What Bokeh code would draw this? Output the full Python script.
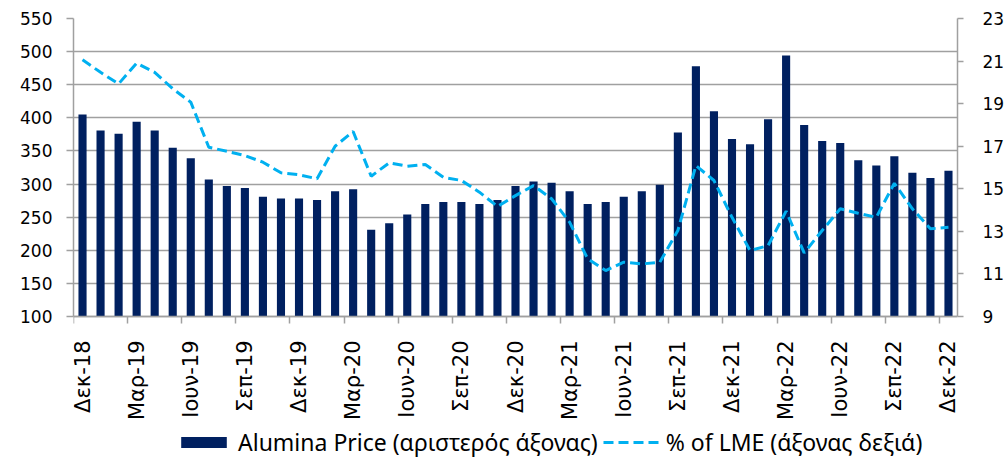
import math
from bokeh.plotting import figure
from bokeh.models import (Range1d, LinearAxis, FixedTicker, Legend, LegendItem,
                          Label, CustomJSTickFormatter)
from bokeh.embed import file_html
from bokeh.resources import INLINE

month_abbr = ["Ιαν", "Φεβ", "Μαρ", "Απρ", "Μαϊ", "Ιουν", "Ιουλ", "Αυγ", "Σεπ", "Οκτ", "Νοε", "Δεκ"]
months = ["Δεκ-18"] + [f"{m}-{y}" for y in ["19", "20", "21", "22"] for m in month_abbr]

price = [405, 381, 376, 394, 381, 355, 339, 307, 297, 294, 281, 278, 278, 276, 289,
         292, 231, 241, 254, 270, 273, 273, 270, 276, 297, 304, 302, 289, 270, 273, 281, 289, 299,
         378, 478, 410, 368, 360, 398, 494, 389, 365, 362, 336, 328, 342, 317, 309, 320]

pct_lme = [21.06, 20.47, 19.93, 20.9, 20.47, 19.7, 19.07, 16.95, 16.76, 16.56, 16.25, 15.75, 15.66, 15.47, 17.0,
           17.69, 15.59, 16.22, 16.06, 16.14, 15.54, 15.39, 14.84, 14.17, 14.68, 15.15, 14.53, 13.43, 11.71,
           11.16, 11.55, 11.47, 11.55,
           13.04, 16.09, 15.39, 13.66, 12.1, 12.33, 13.95, 11.99, 13.04, 14.06, 13.85, 13.66, 15.26, 14.06,
           13.12, 13.19]

left_ticks = [100, 150, 200, 250, 300, 350, 400, 450, 500, 550]
right_ticks = [9, 11, 13, 15, 17, 19, 21, 23]
left_lo, left_hi = 100, 550
right_lo, right_hi = 9, 23

x = [i + 0.5 for i in range(len(months))]
label_pos = [i + 0.5 for i in range(0, len(months), 3)]
boundary_pos = [i for i in range(0, len(months), 3)]

GRID = "#a0a0a0"
TICK_FONT = "DejaVu Sans"

# value axes span 298 px; the frame continues 142 px lower to hold the month labels and legend
AXIS_PX, EXTRA_PX = 298, 142
left_start = left_lo - EXTRA_PX * (left_hi - left_lo) / AXIS_PX
right_start = right_lo - EXTRA_PX * (right_hi - right_lo) / AXIS_PX

p = figure(frame_width=884, frame_height=AXIS_PX + EXTRA_PX,
           x_range=Range1d(0, len(months)), y_range=Range1d(left_start, left_hi),
           output_backend="svg", toolbar_location=None,
           min_border_left=73, min_border_right=47, min_border_top=18, min_border_bottom=0)
p.outline_line_color = None
p.background_fill_color = "white"
p.border_fill_color = "white"
p.xgrid.visible = False
p.ygrid.ticker = FixedTicker(ticks=left_ticks)
p.ygrid.grid_line_color = GRID
p.ygrid.grid_line_width = 1.5

ya = p.yaxis[0]
ya.ticker = FixedTicker(ticks=left_ticks)
ya.bounds = (left_lo, left_hi)
ya.axis_line_color = GRID
ya.axis_line_width = 1.5
ya.major_tick_line_color = GRID
ya.major_tick_line_width = 1.5
ya.major_tick_out = 7
ya.major_tick_in = 0
ya.minor_tick_line_color = None
ya.major_label_text_font = TICK_FONT
ya.major_label_text_font_size = "17px"
ya.major_label_text_color = "#000000"
ya.major_label_standoff = 14

xa = p.xaxis[0]
xa.fixed_location = left_lo
xa.ticker = FixedTicker(ticks=label_pos, minor_ticks=boundary_pos)
xa.formatter = CustomJSTickFormatter(args=dict(labels=months),
                                     code="return labels[Math.round(tick - 0.5)];")
xa.axis_line_color = GRID
xa.axis_line_width = 1.5
xa.major_tick_line_color = None
xa.major_tick_out = 0
xa.major_tick_in = 0
xa.minor_tick_line_color = GRID
xa.minor_tick_line_width = 1.5
xa.minor_tick_out = 7
xa.minor_tick_in = 0
xa.major_label_orientation = math.pi / 2
xa.major_label_text_font = TICK_FONT
xa.major_label_text_font_size = "21px"
xa.major_label_text_color = "#000000"
xa.major_label_standoff = 17

p.extra_y_ranges = {"r": Range1d(right_start, right_hi)}
ra = LinearAxis(y_range_name="r", ticker=FixedTicker(ticks=right_ticks), bounds=(right_lo, right_hi))
ra.axis_line_color = GRID
ra.axis_line_width = 1.5
ra.major_tick_line_color = GRID
ra.major_tick_line_width = 1.5
ra.major_tick_out = 6
ra.major_tick_in = 0
ra.minor_tick_line_color = None
ra.major_label_text_font = TICK_FONT
ra.major_label_text_font_size = "17px"
ra.major_label_text_color = "#000000"
ra.major_label_standoff = 19
p.add_layout(ra, "right")

bars = p.vbar(x=x, top=price, bottom=left_lo, width=0.45, fill_color="#002060", line_color=None)
line = p.line(x, pct_lme, y_range_name="r", line_color="#00b0f0", line_width=3, line_dash="10 5")

legend = Legend(items=[LegendItem(label="Alumina Price (αριστερός άξονας)", renderers=[bars]),
                       LegendItem(label="% of LME (άξονας δεξιά)", renderers=[line])],
                orientation="horizontal", location=(102, 0),
                glyph_width=57, glyph_height=14, label_standoff=6, spacing=5,
                label_height=26,
                padding=0, margin=0, border_line_color=None, background_fill_alpha=0,
                label_text_font="Noto Sans", label_text_font_size="23px",
                label_text_color="#000000")
p.add_layout(legend, "center")

page_no = Label(x=900, y=6, x_units="screen", y_units="screen", text="32",
                text_font="Noto Sans", text_font_size="20px", text_color="#000000",
                text_baseline="top")
p.add_layout(page_no)

open("out.html", "w").write(file_html(p, INLINE))
